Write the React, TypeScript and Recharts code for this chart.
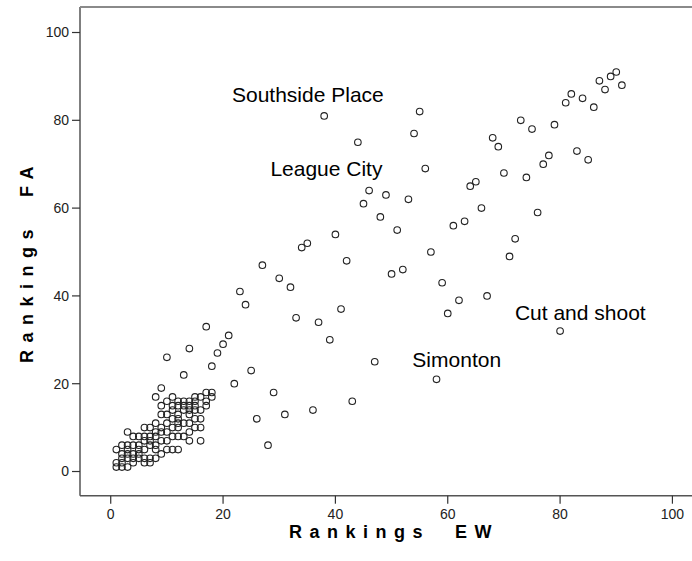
import { ReferenceDot, Scatter, ScatterChart, XAxis, YAxis } from 'recharts';

// rankings, one entry per district
const ewRank = [
  90, 89, 87, 91, 88, 82, 84, 81, 86,
  73, 75, 79, 68, 69, 83, 85, 78, 77, 70, 74, 65, 64, 66, 76, 63, 61, 72, 71, 57, 59, 67, 62, 60, 80,
  38, 55, 54, 44, 56, 46, 49, 53, 45, 48, 51, 40, 35, 34, 42, 52, 50,
  27, 30, 32, 23, 24, 41, 33, 37, 39, 17, 21, 20, 19, 18, 47, 25, 22, 58, 29, 43, 36, 31, 26, 28,
  18, 17, 17, 16, 16, 16, 16, 16,
  10, 14, 13, 9, 8, 11, 12, 14, 15, 13, 14, 15, 15, 13, 12, 12, 11, 10, 9, 9, 8, 7, 6, 5, 4, 3,
  4, 5, 3, 2, 1, 2, 3, 5, 6, 7, 8, 9, 10, 11, 12, 6, 1, 2, 3, 1,
  4, 5, 6, 7, 6, 7, 8, 8, 9, 10, 11, 12, 10, 11, 9, 8, 10, 12, 13, 14, 14, 15, 15, 13, 14, 14,
  10, 11, 12, 9, 7, 3, 2, 2, 4, 7, 17, 18, 15, 13, 4, 5, 3, 6, 12, 11, 14, 8,
];
const faRank = [
  91, 90, 89, 88, 87, 86, 85, 84, 83,
  80, 78, 79, 76, 74, 73, 71, 72, 70, 68, 67, 66, 65, 60, 59, 57, 56, 53, 49, 50, 43, 40, 39, 36, 32,
  81, 82, 77, 75, 69, 64, 63, 62, 61, 58, 55, 54, 52, 51, 48, 46, 45,
  47, 44, 42, 41, 38, 37, 35, 34, 30, 33, 31, 29, 27, 24, 25, 23, 20, 21, 18, 16, 14, 13, 12, 6,
  18, 18, 15, 17, 14, 12, 10, 7,
  26, 28, 22, 19, 17, 17, 15, 16, 17, 14, 13, 12, 10, 8, 8, 10, 10, 13, 13, 15, 11, 10, 10, 8, 8, 9,
  6, 5, 6, 6, 5, 3, 3, 4, 3, 3, 3, 4, 5, 5, 5, 2, 2, 1, 1, 1,
  4, 6, 7, 8, 5, 6, 8, 9, 10, 11, 12, 12, 9, 8, 7, 6, 7, 13, 15, 14, 15, 15, 14, 11, 11, 9,
  16, 14, 11, 9, 7, 4, 2, 4, 3, 2, 16, 17, 16, 16, 2, 3, 5, 8, 16, 15, 7, 5,
];

const labelNames = ['Southside Place', 'League City', 'Cut and shoot', 'Simonton'];
const labelEW = [35.1, 38.4, 83.6, 61.6];
const labelFA = [85.8, 69.1, 36.3, 25.4];

const axisTicks = [0, 20, 40, 60, 80, 100];

const points = ewRank.map((ew, i) => ({ ew, fa: faRank[i] }));

const font = 'Arial, "Liberation Sans", sans-serif';

const Ring = (props: any) => (
  <circle cx={props.cx} cy={props.cy} r={3.3} fill="none" stroke="#222" strokeWidth={1.1} />
);

const titleStyle = {
  position: 'absolute' as const,
  fontFamily: font,
  fontWeight: 'bold' as const,
  fontSize: 18,
  letterSpacing: 7.5,
  whiteSpace: 'pre' as const,
  color: '#000',
  lineHeight: '20px',
};

export default function App() {
  return (
    <div
      style={{
        position: 'absolute',
        left: 0,
        top: 0,
        width: 692,
        height: 561,
        overflow: 'hidden',
        background: '#fff',
        fontFamily: font,
      }}
    >
      <ScatterChart width={720} height={561} margin={{ top: 7, right: 0, bottom: 0, left: 0 }}>
        <XAxis
          dataKey='ew'
          type='number'
          domain={[-5.47, 108.47]}
          ticks={axisTicks}
          height={65.3}
          tickSize={8}
          tickMargin={5}
          axisLine={{ stroke: '#555', strokeWidth: 1.5 }}
          tickLine={{ stroke: '#333', strokeWidth: 1.2 }}
          tick={{ fontSize: 14, fill: '#222', fontFamily: font }}
        />
        <YAxis
          dataKey='fa'
          type='number'
          domain={[-5.51, 105.81]}
          ticks={axisTicks}
          width={80}
          tickSize={8}
          tickMargin={3}
          axisLine={{ stroke: '#555', strokeWidth: 1.5 }}
          tickLine={{ stroke: '#333', strokeWidth: 1.2 }}
          tick={{ fontSize: 14, fill: '#222', fontFamily: font }}
        />
        <Scatter data={points} shape={Ring} isAnimationActive={false} />
        {labelNames.map((name, i) => (
          <ReferenceDot
            key={name}
            x={labelEW[i]}
            y={labelFA[i]}
            r={0}
            fill='none'
            stroke='none'
            label={{ value: name, position: 'center', fontSize: 21, fill: '#000', fontFamily: font }}
          />
        ))}
      </ScatterChart>
      {/* top frame line of the plot box */}
      <div
        style={{ position: 'absolute', left: 80, top: 6.25, width: 620, height: 1.5, background: '#8a8a8a' }}
      />
      <div style={{ ...titleStyle, left: 394, top: 532, transform: 'translate(-50%, -50%)' }}>
        {'Rankings  EW'}
      </div>
      <div
        style={{ ...titleStyle, left: 27, top: 261, transform: 'translate(-50%, -50%) rotate(-90deg)' }}
      >
        {'Rankings  FA'}
      </div>
    </div>
  );
}
